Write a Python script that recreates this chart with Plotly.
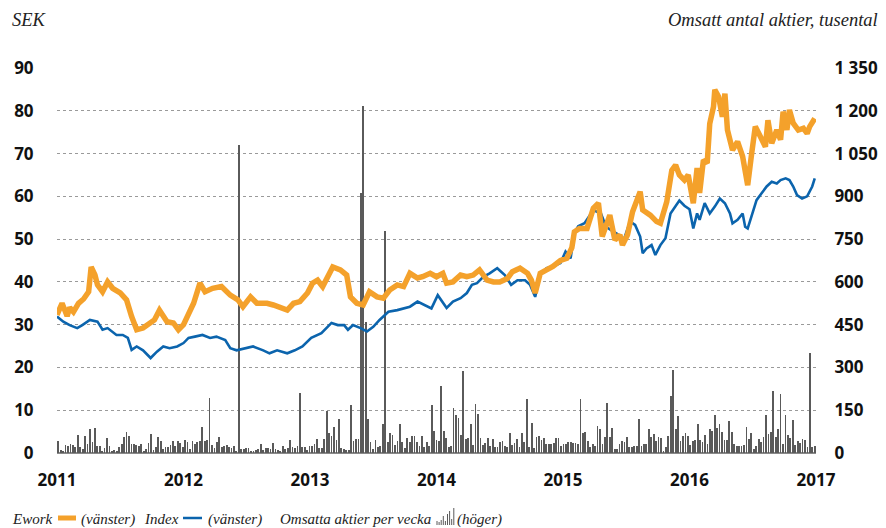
import plotly.graph_objects as go

# ---------------- data ----------------
ework_t = [2011.00, 2011.04, 2011.08, 2011.10, 2011.13, 2011.17, 2011.21, 2011.25, 2011.27, 2011.30,
           2011.32, 2011.36, 2011.40, 2011.44, 2011.50, 2011.55, 2011.59, 2011.63, 2011.68, 2011.74,
           2011.77, 2011.81, 2011.87, 2011.92, 2011.96, 2012.00, 2012.04, 2012.08, 2012.13, 2012.17,
           2012.23, 2012.30, 2012.37, 2012.43, 2012.47, 2012.53, 2012.58, 2012.66, 2012.71, 2012.76,
           2012.82, 2012.87, 2012.92, 2012.98, 2013.02, 2013.06, 2013.10, 2013.18, 2013.24, 2013.29,
           2013.32, 2013.37, 2013.42, 2013.47, 2013.53, 2013.58, 2013.63, 2013.69, 2013.74, 2013.79,
           2013.85, 2013.89, 2013.95, 2014.00, 2014.05, 2014.08, 2014.13, 2014.19, 2014.24, 2014.29,
           2014.34, 2014.40, 2014.45, 2014.50, 2014.56, 2014.60, 2014.66, 2014.72, 2014.75, 2014.78,
           2014.82, 2014.87, 2014.92, 2014.98, 2015.03, 2015.07, 2015.09, 2015.13, 2015.19, 2015.24,
           2015.28, 2015.31, 2015.35, 2015.37, 2015.41, 2015.45, 2015.47, 2015.51, 2015.55, 2015.58,
           2015.61, 2015.63, 2015.69, 2015.74, 2015.77, 2015.82, 2015.86, 2015.89, 2015.92, 2015.96,
           2015.99, 2016.03, 2016.06, 2016.08, 2016.11, 2016.14, 2016.16, 2016.19, 2016.20, 2016.23,
           2016.26, 2016.28, 2016.30, 2016.34, 2016.38, 2016.42, 2016.44, 2016.46, 2016.49, 2016.52,
           2016.56, 2016.60, 2016.62, 2016.65, 2016.69, 2016.72, 2016.74, 2016.77, 2016.79, 2016.82,
           2016.86, 2016.90, 2016.93, 2016.95, 2016.99]
ework_v = [32.3, 35.0, 32.0, 34.0, 33.0, 35.0, 36.0, 37.7, 43.5, 41.6,
           39.3, 37.7, 40.0, 38.5, 37.4, 35.8, 31.9, 28.8, 29.2, 30.4,
           31.1, 33.4, 30.7, 30.4, 28.8, 30.0, 32.5, 35.0, 39.7, 37.7,
           38.5, 38.9, 36.9, 35.8, 34.2, 36.5, 35.0, 35.0, 34.6, 34.2,
           33.4, 35.0, 35.4, 37.4, 39.7, 40.4, 38.9, 43.5, 42.8, 41.6,
           36.5, 35.0, 34.6, 37.7, 36.5, 36.2, 38.1, 39.3, 38.9, 42.0,
           40.9, 41.2, 42.0, 41.2, 42.0, 39.7, 40.0, 41.6, 41.2, 41.6,
           42.8, 40.4, 40.0, 40.0, 40.8, 42.4, 43.2, 42.0, 40.4, 37.4,
           42.0, 42.8, 43.6, 45.0, 45.5, 48.0, 51.7, 52.5, 52.5, 57.2,
           58.4, 50.6, 53.7, 55.6, 49.8, 51.0, 48.6, 51.0, 56.4, 59.1,
           61.1, 56.8, 55.6, 54.1, 53.7, 58.7, 66.1, 67.3, 65.0, 63.8,
           65.0, 58.4, 66.6, 60.8, 68.5, 67.8, 77.0, 81.0, 84.9, 83.3,
           78.6, 84.0, 75.5, 70.8, 72.8, 69.3, 65.8, 62.6, 69.7, 76.3,
           74.0, 71.6, 77.8, 72.4, 75.5, 73.2, 79.8, 75.5, 80.2, 77.1,
           75.5, 75.9, 74.7, 76.3, 78.2]

index_t = [2011.00, 2011.05, 2011.10, 2011.16, 2011.20, 2011.26, 2011.32, 2011.36, 2011.40, 2011.47,
           2011.52, 2011.56, 2011.59, 2011.63, 2011.68, 2011.74, 2011.79, 2011.84, 2011.89, 2011.95,
           2012.00, 2012.04, 2012.09, 2012.15, 2012.21, 2012.26, 2012.33, 2012.37, 2012.42, 2012.50,
           2012.55, 2012.63, 2012.68, 2012.74, 2012.82, 2012.88, 2012.94, 2013.01, 2013.06, 2013.09,
           2013.17, 2013.22, 2013.27, 2013.30, 2013.34, 2013.40, 2013.45, 2013.50, 2013.55, 2013.62,
           2013.69, 2013.74, 2013.79, 2013.85, 2013.91, 2013.96, 2014.01, 2014.05, 2014.08, 2014.13,
           2014.19, 2014.24, 2014.28, 2014.32, 2014.37, 2014.42, 2014.48, 2014.54, 2014.59, 2014.64,
           2014.70, 2014.74, 2014.78, 2014.82, 2014.87, 2014.92, 2014.98, 2015.02, 2015.06, 2015.09,
           2015.12, 2015.17, 2015.24, 2015.30, 2015.34, 2015.38, 2015.44, 2015.48, 2015.53, 2015.57,
           2015.61, 2015.63, 2015.66, 2015.70, 2015.73, 2015.77, 2015.81, 2015.85, 2015.89, 2015.92,
           2015.96, 2016.00, 2016.03, 2016.06, 2016.08, 2016.12, 2016.16, 2016.20, 2016.24, 2016.28,
           2016.32, 2016.34, 2016.38, 2016.42, 2016.44, 2016.46, 2016.49, 2016.53, 2016.57, 2016.61,
           2016.65, 2016.69, 2016.72, 2016.76, 2016.79, 2016.82, 2016.85, 2016.89, 2016.93, 2016.97,
           2016.99]
index_v = [31.9, 30.7, 29.9, 29.2, 29.9, 31.1, 30.7, 28.8, 29.2, 27.6,
           27.6, 26.9, 24.1, 24.9, 24.0, 22.2, 23.7, 24.9, 24.5, 24.9,
           25.7, 26.9, 27.2, 27.6, 26.9, 27.2, 26.4, 24.5, 24.0, 24.5,
           24.9, 24.0, 23.3, 24.0, 23.3, 24.0, 24.9, 26.9, 27.6, 28.0,
           30.4, 29.9, 29.9, 28.8, 29.9, 29.2, 28.4, 29.5, 31.1, 33.0,
           33.4, 33.8, 34.2, 35.4, 34.6, 33.8, 36.9, 35.0, 33.9, 35.4,
           36.2, 37.4, 39.3, 39.7, 41.2, 42.0, 43.2, 41.6, 39.3, 40.4,
           40.4, 39.3, 36.5, 41.6, 43.2, 43.6, 44.4, 47.1, 45.5, 51.4,
           53.0, 53.7, 56.8, 56.0, 52.9, 52.1, 51.0, 49.8, 54.1, 53.3,
           50.6, 46.7, 47.8, 48.6, 46.3, 48.6, 50.2, 56.0, 57.6, 59.0,
           57.8, 57.0, 52.5, 56.0, 54.5, 58.4, 56.0, 57.6, 59.5, 58.4,
           56.0, 53.7, 54.5, 56.0, 52.9, 52.5, 55.3, 59.1, 60.7, 62.3,
           63.4, 63.0, 63.8, 64.2, 63.8, 62.3, 60.3, 59.5, 60.0, 62.3,
           64.2]

# weekly traded shares (thousands), 2011-2016
volume = [43, 12, 8, 28, 26, 30, 29, 20, 63, 20, 14, 58, 32, 84, 37, 88, 26, 26, 8, 19,
          51, 26, 7, 10, 6, 20, 30, 55, 72, 61, 30, 30, 28, 23, 33, 8, 14, 35, 67, 12,
          20, 55, 43, 14, 20, 20, 28, 43, 26, 43, 34, 20,
          46, 37, 14, 43, 30, 37, 43, 90, 43, 46, 193, 28, 16, 37, 55, 20, 26, 28, 22, 16,
          26, 8, 1080, 14, 14, 16, 18, 8, 5, 12, 14, 32, 12, 19, 18, 14, 35, 14, 12, 6,
          23, 14, 16, 47, 20, 16, 25,
          210, 20, 22, 12, 23, 23, 32, 49, 16, 18, 49, 146, 70, 61, 92, 46, 119, 18, 14, 12,
          10, 168, 43, 49, 49, 911, 1217, 460, 119,
          37, 14, 46, 20, 26, 102, 778, 37, 70, 63, 28, 43, 102, 37, 16, 51, 37, 58, 58, 37,
          26, 61, 20, 37, 26, 168, 78, 47, 43, 236, 78, 51, 20, 26, 157, 133, 122, 63, 287, 49,
          54, 102, 28, 172, 137, 51, 28, 35, 51, 26, 49, 20, 20, 37, 43, 26, 20, 70, 28, 35,
          49, 20, 70, 37, 190, 20, 105, 16, 55, 61, 47, 51, 32, 32, 32, 35, 51, 51, 26, 32,
          32, 37, 37, 35, 35, 32, 190, 70, 72, 43, 20, 32, 26, 96, 84, 30, 55,
          175, 55, 87, 14, 14, 32, 43, 37, 55, 20, 20, 26, 26, 119, 26, 32, 32, 84, 55, 67,
          43, 55, 51, 8, 20, 61, 199, 290, 84, 129, 43, 58, 70, 58, 28, 43, 47, 102, 47, 37,
          63, 32, 84, 78, 133, 87, 102, 72, 47, 47, 113, 75, 32, 26, 26, 26, 28, 90, 49, 70,
          14, 23, 49, 37, 55, 133, 67, 75, 219, 55, 84, 207, 32, 133, 63, 51, 117, 28, 43, 35,
          49, 47, 20, 350, 20, 26]

year_ticks = [2011, 2012, 2013, 2014, 2015, 2016, 2017]
left_ticks = [0, 10, 20, 30, 40, 50, 60, 70, 80, 90]
right_ticks = [0, 150, 300, 450, 600, 750, 900, 1050, 1200, 1350]
right_labels = ["0", "150", "300", "450", "600", "750", "900", "1 050", "1 200", "1 350"]

# weekly positions (52 weeks per year)
vol_x = [2011 + (i + 0.5) * 6.0 / len(volume) for i in range(len(volume))]

# ---------------- layout helpers ----------------
W, H = 886, 528
L, R, T, B = 57, 816, 68, 453


def px(x):
    return (x - L) / (R - L)


def py(y):
    return (B - y) / (B - T)


ORANGE = "#F4A12B"
BLUE = "#0B64AD"
BARC = "#5a5a5a"
tickfont = dict(family="Open Sans", size=17, color="#111111", weight=700)
serif_top = dict(family="Liberation Serif", size=18.5, color="#222222", style="italic")
serif_leg = dict(family="Liberation Serif", size=15, color="#222222", style="italic")

fig = go.Figure()
fig.add_trace(go.Bar(x=vol_x, y=volume, yaxis="y", width=0.0062,
                     marker=dict(color=BARC, line=dict(width=0)), hoverinfo="skip"))
fig.add_trace(go.Scatter(x=index_t, y=index_v, yaxis="y2", mode="lines",
                         line=dict(color=BLUE, width=2.6), hoverinfo="skip"))
fig.add_trace(go.Scatter(x=ework_t, y=ework_v, yaxis="y2", mode="lines",
                         line=dict(color=ORANGE, width=5.5), hoverinfo="skip"))

fig.update_layout(
    width=W, height=H,
    margin=dict(l=L, r=W - R, t=T, b=H - B, pad=0),
    paper_bgcolor="white", plot_bgcolor="white",
    showlegend=False, hovermode=False,
    xaxis=dict(range=[2011, 2017], tickvals=year_ticks, ticktext=[str(y) for y in year_ticks],
               showgrid=False, zeroline=False, showline=False, automargin=False,
               ticks="outside", ticklen=12, tickcolor="rgba(0,0,0,0)", tickfont=tickfont),
    yaxis=dict(side="right", range=[0, 1350], tickvals=right_ticks, ticktext=right_labels,
               showgrid=True, gridcolor="#9a9a9a", gridwidth=1.3, griddash="dot",
               zeroline=True, zerolinecolor="#8a8a8a", zerolinewidth=2.2, showline=False,
               automargin=False,
               ticks="outside", ticklen=14, tickcolor="rgba(0,0,0,0)", tickfont=tickfont),
    yaxis2=dict(overlaying="y", side="left", range=[0, 90], tickvals=left_ticks,
                showgrid=False, zeroline=False, showline=False, automargin=False,
                ticks="outside", ticklen=19, tickcolor="rgba(0,0,0,0)", tickfont=tickfont),
    bargap=0,
)

ann = []
ann.append(dict(text="SEK", x=px(10), y=py(20), xref="paper", yref="paper",
                xanchor="left", yanchor="middle", showarrow=False, font=serif_top))
ann.append(dict(text="Omsatt antal aktier, tusental", x=px(880), y=py(20), xref="paper", yref="paper",
                xanchor="right", yanchor="middle", showarrow=False, font=serif_top))

legend_items = [("Ework", 10), ("(vänster)", 79), ("Index", 142), ("(vänster)", 206),
                ("Omsatta aktier per vecka", 278), ("(höger)", 455)]
for txt, x0 in legend_items:
    ann.append(dict(text=txt, x=px(x0), y=py(519), xref="paper", yref="paper",
                    xanchor="left", yanchor="middle", showarrow=False, font=serif_leg))

shapes = []
shapes.append(dict(type="line", xref="paper", yref="paper", x0=px(58), x1=px(76), y0=py(518), y1=py(518),
                   line=dict(color=ORANGE, width=5)))
shapes.append(dict(type="line", xref="paper", yref="paper", x0=px(183), x1=px(202), y0=py(518), y1=py(518),
                   line=dict(color=BLUE, width=2.5)))
icon_h = [4, 3, 5, 9, 4, 11, 14, 6, 17]
for k, h in enumerate(icon_h):
    xx = 437 + k * 2.1
    shapes.append(dict(type="line", xref="paper", yref="paper", x0=px(xx), x1=px(xx),
                       y0=py(525), y1=py(525 - h), line=dict(color=BARC, width=1)))

fig.update_layout(annotations=ann, shapes=shapes)
fig.write_html("out.html", config={"displayModeBar": False},
               post_script="document.body.style.margin='0';document.body.style.overflow='hidden';")
